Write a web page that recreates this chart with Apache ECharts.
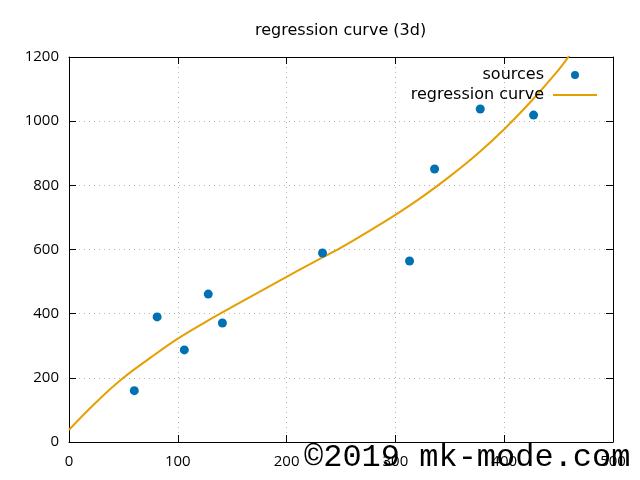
<!DOCTYPE html>
<html>
<head>
<meta charset="utf-8">
<script src="https://cdn.jsdelivr.net/npm/echarts@6/dist/echarts.min.js"></script>
<style>
html, body { margin: 0; padding: 0; background: #fff; }
#main { width: 640px; height: 480px; }
</style>
</head>
<body>
<div id="main"></div>
<script>
var chart = echarts.init(document.getElementById('main'));

// sources (scatter)
var srcX = [60, 81, 106, 128, 141, 233, 313, 336, 378, 427];
var srcY = [160, 390, 287, 461, 371, 589, 564, 851, 1038, 1019];

// regression curve
var curveX = [0, 25, 50, 75, 100, 125, 150, 175, 200, 225, 250, 275, 300, 325, 350, 375, 400, 425, 450, 460];
var curveY = [38, 124, 200, 263, 322, 373, 421, 468, 515, 561, 606, 656, 708, 765, 828, 897, 975, 1063, 1160, 1205];

var xTicks = [0, 100, 200, 300, 400, 500];
var yTicks = [0, 200, 400, 600, 800, 1000, 1200];

var sources = srcX.map(function (x, i) { return [x, srcY[i]]; });
var curve = curveX.map(function (x, i) { return [x, curveY[i]]; });

var tickFont = { color: '#000', fontFamily: 'Open Sans', fontSize: 15 };
var dotted = { show: true, lineStyle: { color: '#b4b4b4', width: 1, type: [1, 4] } };
var frame = { show: true, onZero: false, lineStyle: { color: '#000', width: 1 } };
var ticks = { show: true, inside: true, length: 7, lineStyle: { color: '#000' } };

var option = {
    animation: false,
    title: {
        text: 'regression curve (3d)',
        left: 250,
        top: 18,
        textStyle: { fontFamily: 'DejaVu Sans', fontSize: 16, fontWeight: 'normal', color: '#000' }
    },
    legend: {
        orient: 'vertical',
        align: 'right',
        right: 38,
        top: 62,
        itemWidth: 44,
        itemHeight: 8,
        itemGap: 4,
        textStyle: { fontFamily: 'DejaVu Sans', fontSize: 16, color: '#000', padding: [0, 4, 0, 0] },
        data: [
            { name: 'sources', icon: 'circle' },
            { name: 'regression curve', icon: 'path://M0,0L44,0L44,2L0,2Z' }
        ]
    },
    grid: { left: 69, right: 27, top: 57, bottom: 38 },
    xAxis: [{
        type: 'value', min: 0, max: 500, interval: 100,
        axisLine: frame, axisTick: ticks, splitLine: dotted,
        axisLabel: Object.assign({ margin: 12 }, tickFont)
    }, {
        type: 'value', position: 'top', min: 0, max: 500, interval: 100,
        axisLine: frame, axisTick: ticks, splitLine: { show: false },
        axisLabel: { show: false }
    }],
    yAxis: [{
        type: 'value', min: 0, max: 1200, interval: 200,
        axisLine: frame, axisTick: ticks, splitLine: dotted,
        axisLabel: Object.assign({ margin: 10, formatter: function (v) { return String(v); } }, tickFont)
    }, {
        type: 'value', position: 'right', min: 0, max: 1200, interval: 200,
        axisLine: frame, axisTick: ticks, splitLine: { show: false },
        axisLabel: { show: false }
    }],
    series: [{
        name: 'sources',
        type: 'scatter',
        symbol: 'circle',
        symbolSize: 9,
        itemStyle: { color: '#0072b2', opacity: 1 },
        data: sources,
        z: 3
    }, {
        name: 'regression curve',
        type: 'line',
        smooth: 0.4,
        showSymbol: false,
        symbol: 'none',
        clip: true,
        lineStyle: { color: '#e69f00', width: 2 },
        itemStyle: { color: '#e69f00' },
        data: curve,
        z: 2
    }],
    graphic: [{
        type: 'text',
        left: 304,
        top: 442,
        z: 100,
        style: {
            text: '©2019 mk-mode.com',
            fontFamily: '"Liberation Mono"',
            fontSize: 32,
            fill: '#000',
            textShadowColor: '#fff',
            textShadowOffsetX: 2,
            textShadowOffsetY: 1,
            textShadowBlur: 0
        }
    }]
};

chart.setOption(option);
</script>
</body>
</html>
